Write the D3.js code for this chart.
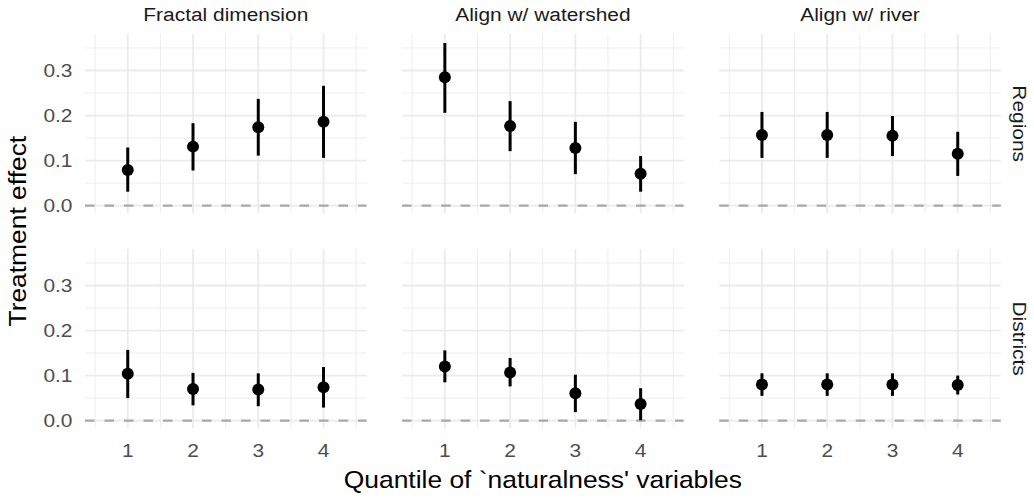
<!DOCTYPE html>
<html>
<head>
<meta charset="utf-8">
<script src="https://cdn.jsdelivr.net/npm/d3@7"></script>
<style>
  html, body { margin: 0; padding: 0; background: #ffffff; }
  svg { display: block; }
  text { font-family: "Liberation Sans", Arial, Helvetica, sans-serif; }
</style>
</head>
<body>
<svg id="chart" width="1034" height="501"></svg>
<script>
// ---------------- data ----------------
const quantiles = [1, 2, 3, 4];
const columnLabels = ["Fractal dimension", "Align w/ watershed", "Align w/ river"];
const rowLabels = ["Regions", "Districts"];
const yTickValues = [0.0, 0.1, 0.2, 0.3];
const yTickLabels = ["0.0", "0.1", "0.2", "0.3"];
const yMinorValues = [0.05, 0.15, 0.25, 0.35];
const xTickLabels = ["1", "2", "3", "4"];
const xMinorValues = [0.5, 1.5, 2.5, 3.5, 4.5];

// Regions row: one array per column (fractal, watershed, river)
const regionsEstimate = [
  [0.079, 0.131, 0.174, 0.186],
  [0.285, 0.177, 0.128, 0.071],
  [0.157, 0.157, 0.155, 0.115]
];
const regionsLower = [
  [0.031, 0.078, 0.111, 0.106],
  [0.206, 0.121, 0.070, 0.031],
  [0.106, 0.106, 0.110, 0.066]
];
const regionsUpper = [
  [0.129, 0.183, 0.237, 0.266],
  [0.361, 0.232, 0.186, 0.110],
  [0.208, 0.208, 0.199, 0.164]
];
// Districts row
const districtsEstimate = [
  [0.104, 0.070, 0.069, 0.074],
  [0.120, 0.107, 0.061, 0.037],
  [0.080, 0.080, 0.080, 0.079]
];
const districtsLower = [
  [0.050, 0.034, 0.032, 0.029],
  [0.085, 0.076, 0.019, 0.001],
  [0.055, 0.055, 0.055, 0.058]
];
const districtsUpper = [
  [0.157, 0.106, 0.105, 0.119],
  [0.156, 0.139, 0.102, 0.072],
  [0.105, 0.105, 0.105, 0.100]
];

const rowData = [
  { est: regionsEstimate, lo: regionsLower, hi: regionsUpper },
  { est: districtsEstimate, lo: districtsLower, hi: districtsUpper }
];

// ---------------- layout ----------------
const panelW = 281.6, panelGap = 35.5, panelLeft0 = 85;
const panelTop0 = 34, panelH = 179.3, rowGap = 35.7;
const xDomain = [0.345, 4.66];
const yDomain = [-0.017, 0.381];
const smallFont = 19, titleFont = 24, sx = 1.1;

const svg = d3.select("#chart");

function textScaled(g, x, y, str, opts) {
  const t = g.append("text")
    .attr("transform", `translate(${x},${y}) ${opts.rotate ? "rotate(" + opts.rotate + ")" : ""} scale(${sx},1)`)
    .attr("font-size", opts.size)
    .attr("fill", opts.fill)
    .attr("text-anchor", opts.anchor || "middle")
    .attr("dominant-baseline", opts.baseline || "auto")
    .text(str);
  return t;
}

rowLabels.forEach((rowLabel, r) => {
  const top = panelTop0 + r * (panelH + rowGap);
  const y = d3.scaleLinear().domain(yDomain).range([top + panelH, top]);

  columnLabels.forEach((colLabel, c) => {
    const left = panelLeft0 + c * (panelW + panelGap);
    const x = d3.scaleLinear().domain(xDomain).range([left, left + panelW]);
    const g = svg.append("g");

    // minor grid
    g.selectAll(".ymin").data(yMinorValues).enter().append("line")
      .attr("x1", left).attr("x2", left + panelW)
      .attr("y1", d => y(d)).attr("y2", d => y(d))
      .attr("stroke", "#ebebeb").attr("stroke-width", 0.9);
    g.selectAll(".xmin").data(xMinorValues).enter().append("line")
      .attr("x1", d => x(d)).attr("x2", d => x(d))
      .attr("y1", top).attr("y2", top + panelH)
      .attr("stroke", "#ebebeb").attr("stroke-width", 0.9);
    // major grid
    g.selectAll(".ymaj").data(yTickValues).enter().append("line")
      .attr("x1", left).attr("x2", left + panelW)
      .attr("y1", d => y(d)).attr("y2", d => y(d))
      .attr("stroke", "#ebebeb").attr("stroke-width", 1.8);
    g.selectAll(".xmaj").data(quantiles).enter().append("line")
      .attr("x1", d => x(d)).attr("x2", d => x(d))
      .attr("y1", top).attr("y2", top + panelH)
      .attr("stroke", "#ebebeb").attr("stroke-width", 1.8);

    // zero reference line
    g.append("line")
      .attr("x1", left).attr("x2", left + panelW)
      .attr("y1", y(0)).attr("y2", y(0))
      .attr("stroke", "#a8a8a8").attr("stroke-width", 2.3)
      .attr("stroke-dasharray", "9.5,10");

    const d = rowData[r];
    const pts = quantiles.map((q, i) => ({ q, est: d.est[c][i], lo: d.lo[c][i], hi: d.hi[c][i] }));
    g.selectAll(".err").data(pts).enter().append("line")
      .attr("x1", p => x(p.q)).attr("x2", p => x(p.q))
      .attr("y1", p => y(p.lo)).attr("y2", p => y(p.hi))
      .attr("stroke", "#000").attr("stroke-width", 3);
    g.selectAll(".pt").data(pts).enter().append("circle")
      .attr("cx", p => x(p.q)).attr("cy", p => y(p.est))
      .attr("r", 6).attr("fill", "#000");

    // column strip labels
    if (r === 0) {
      textScaled(svg, left + panelW / 2, 20.7, colLabel, { size: smallFont, fill: "#1a1a1a" });
    }
    // x tick labels on bottom row
    if (r === rowLabels.length - 1) {
      quantiles.forEach((q, i) => {
        textScaled(svg, x(q), 456.7, xTickLabels[i], { size: smallFont, fill: "#4d4d4d" });
      });
    }
    // y tick labels on first column
    if (c === 0) {
      yTickValues.forEach((v, i) => {
        textScaled(svg, 72.5, y(v), yTickLabels[i], { size: smallFont, fill: "#4d4d4d", anchor: "end", baseline: "central" });
      });
    }
  });

  // row strip labels
  textScaled(svg, 1020, top + panelH / 2, rowLabel, { size: smallFont, fill: "#1a1a1a", rotate: 90, baseline: "central" });
});

// axis titles
textScaled(svg, panelLeft0 + (3 * panelW + 2 * panelGap) / 2, 488.3, "Quantile of `naturalness' variables", { size: titleFont, fill: "#000" });
textScaled(svg, 26, panelTop0 + (2 * panelH + rowGap) / 2, "Treatment effect", { size: titleFont, fill: "#000", rotate: -90 });
</script>
</body>
</html>
